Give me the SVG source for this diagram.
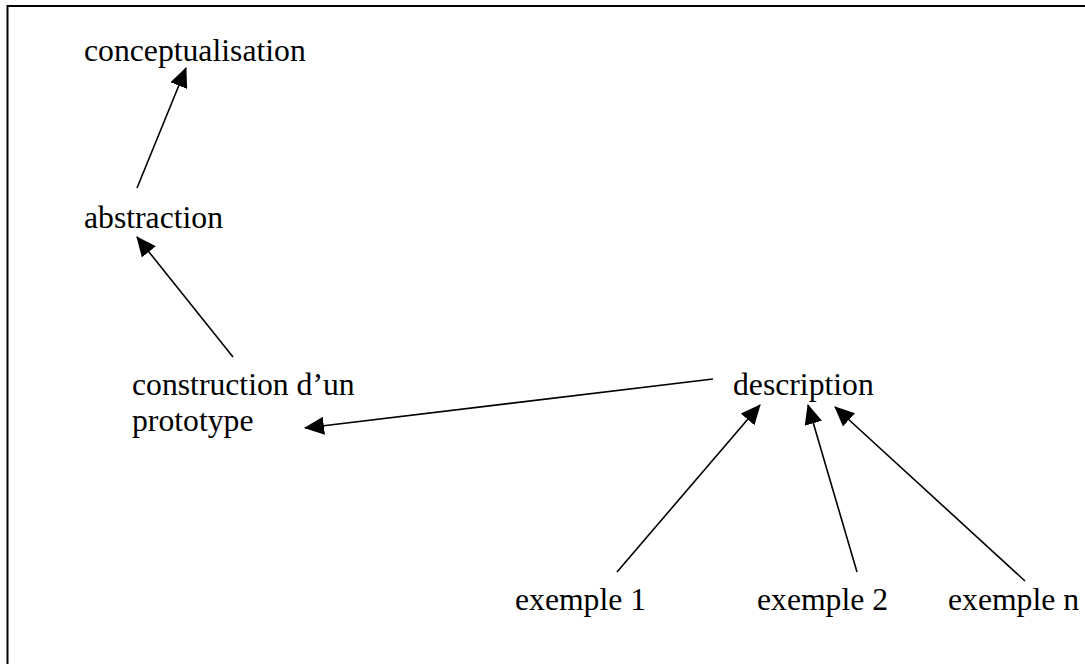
<svg xmlns="http://www.w3.org/2000/svg" width="1085" height="664" viewBox="0 0 1085 664">
  <style>
    .lbl { font-family: "Liberation Serif", "Times New Roman", serif; font-size: 31.7px; fill: #000; }
    .edge { stroke: #000; stroke-width: 1.6; fill: none; marker-end: url(#arrow); }
  </style>
  <defs>
    <marker id="arrow" viewBox="0 0 20 18" refX="19" refY="9" markerWidth="20" markerHeight="18" markerUnits="userSpaceOnUse" orient="auto">
      <path d="M0,0 L20,9 L0,18 Z" fill="#000"/>
    </marker>
  </defs>
  <rect x="0" y="0" width="1085" height="664" fill="#fff"/>
  <rect id="frame" x="7.5" y="6" width="1100" height="700" fill="none" stroke="#000" stroke-width="2"/>

  <g id="n-conceptualisation"><text class="lbl" x="84" y="61">conceptualisation</text></g>
  <g id="n-abstraction"><text class="lbl" x="84" y="228">abstraction</text></g>
  <g id="n-prototype">
    <text class="lbl" x="132" y="395">construction d’un</text>
    <text class="lbl" x="132" y="431">prototype</text>
  </g>
  <g id="n-description"><text class="lbl" x="733" y="395">description</text></g>
  <g id="n-exemple1"><text class="lbl" x="515" y="610">exemple 1</text></g>
  <g id="n-exemple2"><text class="lbl" x="757" y="610">exemple 2</text></g>
  <g id="n-exemplen"><text class="lbl" x="948" y="610">exemple n</text></g>

  <g id="connectors">
    <line class="edge" x1="137" y1="188" x2="186" y2="68"/>
    <line class="edge" x1="233" y1="357" x2="137" y2="237"/>
    <line class="edge" x1="713" y1="379" x2="305" y2="428"/>
    <line class="edge" x1="617" y1="572" x2="760" y2="405"/>
    <line class="edge" x1="857" y1="572" x2="808" y2="405"/>
    <line class="edge" x1="1025" y1="581" x2="835" y2="407"/>
  </g>
</svg>
